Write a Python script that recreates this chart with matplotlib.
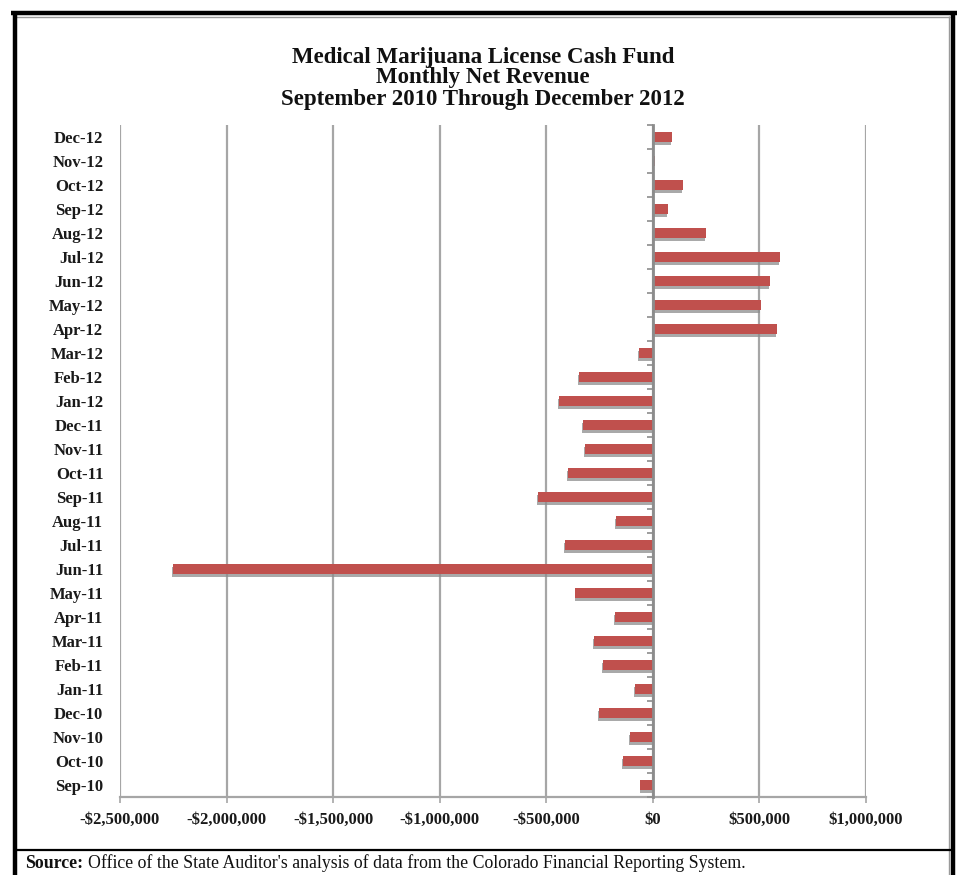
import matplotlib
matplotlib.use("Agg")
import matplotlib.pyplot as plt
import matplotlib.patheffects as pe
from matplotlib.lines import Line2D
from matplotlib.ticker import FuncFormatter, FixedLocator, NullFormatter

plt.rcParams['font.family'] = ['Liberation Serif', 'DejaVu Serif']

months = ['Sep-10', 'Oct-10', 'Nov-10', 'Dec-10', 'Jan-11', 'Feb-11', 'Mar-11',
          'Apr-11', 'May-11', 'Jun-11', 'Jul-11', 'Aug-11', 'Sep-11', 'Oct-11',
          'Nov-11', 'Dec-11', 'Jan-12', 'Feb-12', 'Mar-12', 'Apr-12', 'May-12',
          'Jun-12', 'Jul-12', 'Aug-12', 'Sep-12', 'Oct-12', 'Nov-12', 'Dec-12']
net_revenue = [-58000, -140000, -106000, -253000, -84000, -234000, -276000,
               -178000, -363000, -2252000, -413000, -173000, -541000, -400000,
               -317000, -328000, -440000, -348000, -66000, 582000, 508000,
               550000, 595000, 250000, 70000, 140000, 8000, 88000]
x_ticks = [-2500000, -2000000, -1500000, -1000000, -500000, 0, 500000, 1000000]

title_lines = ['Medical Marijuana License Cash Fund',
               'Monthly Net Revenue',
               'September 2010 Through December 2012']

W, H = 957, 875
fig = plt.figure(figsize=(W / 100, H / 100), dpi=100)
ax = fig.add_axes([120 / W, 1 - 797 / H, 746 / W, 672 / H])

ypos = list(range(len(months)))
bars = ax.barh(ypos, net_revenue, height=0.4, color='#C0504D', zorder=3)
for b in bars:
    b.set_path_effects([pe.SimplePatchShadow(offset=(-0.6, -2.2), shadow_rgbFace='#8c8c8c', alpha=0.75),
                        pe.Normal()])

ax.set_xlim(-2500000, 1000000)
ax.set_ylim(-0.5, len(months) - 0.5)

def money(v, pos):
    if v == 0:
        return '$0'
    s = '${:,.0f}'.format(abs(v))
    return '-' + s if v < 0 else s

ax.xaxis.set_major_locator(FixedLocator(x_ticks))
ax.xaxis.set_major_formatter(FuncFormatter(money))
ax.grid(axis='x', color='#a6a6a6', linewidth=1.6, zorder=0)

ax.set_yticks(ypos)
ax.set_yticklabels(months)
ax.tick_params(axis='y', length=0, pad=12)
ax.tick_params(axis='x', length=4, color='#a6a6a6', width=1.2, pad=7)

for lab in ax.get_yticklabels():
    lab.set_fontweight('bold')
    lab.set_fontsize(12)
    lab.set_color('#1a1a1a')
for lab in ax.get_xticklabels():
    lab.set_fontweight('bold')
    lab.set_fontsize(12)
    lab.set_color('#1a1a1a')

for side in ['top', 'right', 'left']:
    ax.spines[side].set_visible(False)
ax.spines['bottom'].set_color('#a6a6a6')
ax.spines['bottom'].set_linewidth(1.6)

# category axis sits on the zero line, tick marks between categories
xmin, xmax = ax.get_xlim()
zero_frac = (0 - xmin) / (xmax - xmin)
sec = ax.secondary_yaxis(zero_frac)
sec.set_yticks([i - 0.5 for i in range(len(months) + 1)])
sec.yaxis.set_major_formatter(NullFormatter())
sec.yaxis.set_ticks_position('left')
sec.tick_params(length=4, color='#8c8c8c', width=1.2, direction='out')
for s in sec.spines.values():
    s.set_color('#8c8c8c')
    s.set_linewidth(2)
sec.set_zorder(4)

title_y = [57, 78, 99]
for line, ty in zip(title_lines, title_y):
    fig.text(483 / W, 1 - ty / H, line, ha='center', va='center',
             fontsize=16.5, fontweight='bold', color='#111111')

# frame around the exhibit
def fline(x0, y0, x1, y1, lw, color):
    fig.add_artist(Line2D([x0 / W, x1 / W], [1 - y0 / H, 1 - y1 / H],
                          color=color, linewidth=lw, solid_capstyle='butt'))

fline(11, 13, 957, 13, 3.2, 'black')
fline(15, 16.5, 950, 16.5, 1.0, '#9a9a9a')
fline(15, 11, 15, 875, 3.2, 'black')
fline(953, 11, 953, 875, 3.2, 'black')
fline(949, 16, 949, 875, 1.0, '#9a9a9a')
fline(15, 850, 953, 850, 1.6, 'black')

fig.canvas.draw()
r = fig.canvas.get_renderer()
t1 = fig.text(25 / W, 1 - 863 / H, 'Source:', fontsize=12.8, fontweight='bold',
              va='center', ha='left', color='#111111')
bb = t1.get_window_extent(r)
fig.text((bb.x1 + 5) / W, 1 - 863 / H,
         "Office of the State Auditor's analysis of data from the Colorado Financial Reporting System.",
         fontsize=12.8, va='center', ha='left', color='#111111')

fig.savefig('out.png', dpi=100)
